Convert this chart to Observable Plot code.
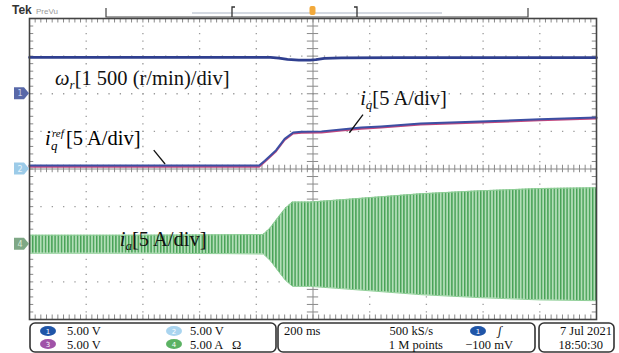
<!DOCTYPE html>
<html><head><meta charset="utf-8">
<script src="https://cdn.jsdelivr.net/npm/d3@7"></script>
<script src="https://cdn.jsdelivr.net/npm/@observablehq/plot@0.6"></script>
<style>body{margin:0;background:#fff} svg{display:block}</style>
</head><body><div id="chart"></div>
<script>
// Time axis: seconds, trigger at 0, 200 ms/div, 10 div
// Channel 1: speed omega_r, 1500 (r/min)/div, ground at +2 div
const speedT   = [-1.0, -0.15, -0.12, -0.09, -0.05, -0.01, 0.01, 0.04, 0.1, 0.3, 1.0];
const speedRpm = [1450, 1450, 1420, 1370, 1340, 1340, 1360, 1410, 1430, 1440, 1440];
// Channel 2: i_q, 5 A/div, ground at 0 div
const iqT   = [-1.0, -0.19, -0.17, -0.13, -0.1, -0.07, -0.04, 0.03, 0.1, 0.17, 0.24, 0.38, 0.59, 0.8, 1.0];
const iqA   = [0.45, 0.45, 1.1, 2.5, 4.0, 4.85, 4.95, 5.0, 5.25, 5.5, 5.65, 6.05, 6.3, 6.6, 6.85];
// Channel 3: i_q reference, 5 A/div, ground at 0 div
const iqRefA = [0.3, 0.3, 0.95, 2.35, 3.85, 4.7, 4.8, 4.85, 5.1, 5.35, 5.5, 5.9, 6.15, 6.45, 6.7];
// Channel 4: i_a envelope amplitude (A), 5 A/div, ground at -2 div
const iaT   = [-1.0, -0.6, -0.3, -0.175, -0.15, -0.122, -0.097, -0.072, -0.01, 0.1, 0.24, 0.38, 0.59, 0.8, 1.0];
const iaAmp = [1.2, 1.2, 1.25, 1.3, 2.2, 3.6, 4.8, 5.6, 5.6, 5.9, 6.3, 6.7, 7.1, 7.4, 7.5];

const ch = {speed: {offset: 2, perDiv: 1500}, iq: {offset: 0, perDiv: 5}, ia: {offset: -2, perDiv: 5}};

const speedData = speedT.map((t, i) => ({t, v: ch.speed.offset + speedRpm[i] / ch.speed.perDiv}));
const iqData = iqT.map((t, i) => ({t, v: ch.iq.offset + iqA[i] / ch.iq.perDiv}));
const iqRefData = iqT.map((t, i) => ({t, v: ch.iq.offset + iqRefA[i] / ch.iq.perDiv}));
const iaData = iaT.map((t, i) => ({t, lo: ch.ia.offset - iaAmp[i] / ch.ia.perDiv, hi: ch.ia.offset + iaAmp[i] / ch.ia.perDiv}));

const gridX = [-0.8, -0.6, -0.4, -0.2, 0.2, 0.4, 0.6, 0.8];
const gridY = [-3, -2, -1, 1, 2, 3];
const minorX = d3.range(-50, 51).map(k => k * 0.02);
const minorY = d3.range(-20, 21).map(k => k * 0.2);

const W = 619, H = 353;
const plot = Plot.plot({
  width: W, height: H,
  marginLeft: 29, marginRight: 23, marginTop: 18, marginBottom: 34,
  x: {domain: [-1, 1], axis: null},
  y: {domain: [-4, 4], axis: null},
  style: {background: "#fff"},
  marks: [
    Plot.ruleX(gridX, {stroke: "#9a9a9a", strokeWidth: 1.3, strokeDasharray: "1.3,6.22"}),
    Plot.ruleY(gridY, {stroke: "#9a9a9a", strokeWidth: 1.3, strokeDasharray: "1.3,10.04"}),
    Plot.ruleX([0], {stroke: "#8a8a8a", strokeWidth: 1}),
    Plot.ruleY([0], {stroke: "#8a8a8a", strokeWidth: 1}),
    Plot.ruleX(minorX, {x: d => d, y1: -0.1, y2: 0.1, stroke: "#8a8a8a"}),
    Plot.ruleY(minorY, {y: d => d, x1: -0.02, x2: 0.02, stroke: "#8a8a8a"}),
    Plot.ruleX(minorX, {x: d => d, y1: 4, y2: 3.88, stroke: "#8a8a8a"}),
    Plot.ruleX(minorX, {x: d => d, y1: -4, y2: -3.88, stroke: "#8a8a8a"}),
    Plot.ruleY(minorY, {y: d => d, x1: -1, x2: -0.985, stroke: "#8a8a8a"}),
    Plot.ruleY(minorY, {y: d => d, x1: 1, x2: 0.985, stroke: "#8a8a8a"}),
    Plot.areaY(iaData, {x: "t", y1: "lo", y2: "hi", fill: "url(#iaStripes)"}),
    Plot.line(iaData, {x: "t", y: "hi", stroke: "#8fcf97", strokeWidth: 1}),
    Plot.line(iaData, {x: "t", y: "lo", stroke: "#8fcf97", strokeWidth: 1}),
    Plot.line(speedData, {x: "t", y: "v", stroke: "#2f3f8f", strokeWidth: 2.6}),
    Plot.line(iqRefData, {x: "t", y: "v", stroke: "#c2487e", strokeWidth: 1.8}),
    Plot.line(iqData, {x: "t", y: "v", stroke: "#3c4fa3", strokeWidth: 2}),
    Plot.frame({stroke: "#444", strokeWidth: 1.6})
  ]
});
document.getElementById("chart").appendChild(plot);

const root = d3.select(plot);
const svg = root.append("g").attr("text-anchor", "start");
const sx = plot.scale("x").apply, sy = plot.scale("y").apply;
const serif = "'Liberation Serif','Times New Roman',serif";

// stripes pattern to render the dense oscillation of i_a
const defs = root.insert("defs", ":first-child");
const pat = defs.append("pattern").attr("id", "iaStripes").attr("patternUnits", "userSpaceOnUse")
  .attr("width", 3.2).attr("height", 10);
pat.append("rect").attr("width", 3.2).attr("height", 10).attr("fill", "#b3deb8");
pat.append("rect").attr("width", 1.4).attr("height", 10).attr("fill", "#45a054");

// annotations
const FS = 20.5, SUB = 13;
function label(t, v, parts, size) {
  const g = svg.append("text").attr("x", sx(t)).attr("y", sy(v))
    .attr("font-family", serif).attr("font-size", size).attr("fill", "#111");
  parts.forEach(p => {
    const ts = g.append("tspan").text(p.s);
    if (p.it) ts.attr("font-style", "italic");
    if (p.fs) ts.attr("font-size", p.fs);
    if (p.dy) ts.attr("dy", p.dy);
  });
  return g;
}
label(-0.908, 2.22, [{s: "ω", it: true}, {s: "r", it: true, fs: SUB, dy: 4}, {s: "[1 500 (r/min)/div]", dy: -4}], FS);
label(0.168, 1.68, [{s: "i", it: true}, {s: "q", it: true, fs: SUB, dy: 4}, {s: "[5 A/div]", dy: -4}], FS);
label(-0.68, -2.07, [{s: "i", it: true}, {s: "a", it: true, fs: SUB, dy: 4}, {s: "[5 A/div]", dy: -4}], FS);
// i_q^ref
{
  const x0 = sx(-0.944), y0 = sy(0.625);
  svg.append("text").attr("x", x0).attr("y", y0).attr("font-family", serif).attr("font-size", FS)
    .attr("font-style", "italic").text("i");
  svg.append("text").attr("x", x0 + 7).attr("y", y0 - 8).attr("font-family", serif).attr("font-size", 11)
    .attr("font-style", "italic").text("ref");
  svg.append("text").attr("x", x0 + 6).attr("y", y0 + 5).attr("font-family", serif).attr("font-size", SUB)
    .attr("font-style", "italic").text("q");
  svg.append("text").attr("x", x0 + 21).attr("y", y0).attr("font-family", serif).attr("font-size", FS).text("[5 A/div]");
}
// pointer lines
svg.append("line").attr("x1", sx(-0.56)).attr("y1", sy(0.49)).attr("x2", sx(-0.52)).attr("y2", sy(0.12))
  .attr("stroke", "#111").attr("stroke-width", 1.3);
svg.append("line").attr("x1", sx(0.178)).attr("y1", sy(1.43)).attr("x2", sx(0.13)).attr("y2", sy(0.95))
  .attr("stroke", "#111").attr("stroke-width", 1.3);

// channel markers at left
function marker(v, fill, txt, tc) {
  const y = sy(v), x1 = 14, x2 = 29;
  svg.append("path").attr("d", `M${x1},${y-6}H${x2-5}L${x2},${y}L${x2-5},${y+6}H${x1}Z`).attr("fill", fill);
  svg.append("text").attr("x", 20).attr("y", y + 3).attr("text-anchor", "middle").attr("font-size", 8)
    .attr("font-family", "DejaVu Sans").attr("fill", tc).text(txt);
}
marker(2, "#5868a8", "1", "#c8d0ee");
marker(0, "#9ccbe8", "2", "#e8f4fb");
marker(-2, "#7fa886", "4", "#d8ecd8");

// header
svg.append("text").attr("x", 12).attr("y", 14).attr("font-family", "'Liberation Sans',Arial,sans-serif")
  .attr("font-weight", "bold").attr("font-size", 12).attr("fill", "#333").text("Tek");
svg.append("text").attr("x", 36).attr("y", 14).attr("font-family", "'Liberation Sans',Arial,sans-serif")
  .attr("font-size", 8).attr("fill", "#999").text("PreVu");
svg.append("path").attr("d", "M106,8V17H528V8").attr("fill", "none").attr("stroke", "#444").attr("stroke-width", 1.2);
svg.append("line").attr("x1", 192).attr("x2", 442).attr("y1", 13).attr("y2", 13).attr("stroke", "#aab4c4").attr("stroke-width", 1.2);
svg.append("path").attr("d", "M235,7H232V17").attr("fill", "none").attr("stroke", "#333").attr("stroke-width", 1.3);
svg.append("path").attr("d", "M354,7H357V17").attr("fill", "none").attr("stroke", "#333").attr("stroke-width", 1.3);
svg.append("rect").attr("x", sx(0) - 3).attr("y", 6).attr("width", 6).attr("height", 9).attr("rx", 2).attr("fill", "#f2a93b");

// bottom status bar
const bar = svg.append("g").attr("font-family", serif).attr("font-size", 12.5).attr("fill", "#111");
[[30, 276], [278, 535], [539, 614]].forEach(([a, b]) => {
  bar.append("rect").attr("x", a).attr("y", 323).attr("width", b - a).attr("height", 29).attr("rx", 5)
    .attr("fill", "none").attr("stroke", "#333").attr("stroke-width", 1.6);
});
function badge(x, y, fill, txt) {
  bar.append("ellipse").attr("cx", x).attr("cy", y).attr("rx", 8).attr("ry", 5).attr("fill", fill);
  bar.append("text").attr("x", x).attr("y", y + 3).attr("text-anchor", "middle").attr("font-size", 7)
    .attr("font-family", "DejaVu Sans").attr("fill", "#fff").text(txt);
}
badge(48, 331, "#1f55a8", "1");
badge(48, 344, "#a052a8", "3");
badge(174, 331, "#a9d4ef", "2");
badge(174, 344, "#5bb263", "4");
badge(478, 331, "#1f55a8", "1");
bar.append("text").attr("x", 67).attr("y", 335).text("5.00 V");
bar.append("text").attr("x", 67).attr("y", 349).text("5.00 V");
bar.append("text").attr("x", 190).attr("y", 335).text("5.00 V");
bar.append("text").attr("x", 190).attr("y", 349).text("5.00 A   Ω");
bar.append("text").attr("x", 284).attr("y", 335).text("200 ms");
bar.append("text").attr("x", 433).attr("y", 335).attr("text-anchor", "end").text("500 kS/s");
bar.append("text").attr("x", 443).attr("y", 349).attr("text-anchor", "end").text("1 M points");
bar.append("text").attr("x", 498).attr("y", 335).attr("font-style", "italic").text("ʃ");
bar.append("text").attr("x", 513).attr("y", 349).attr("text-anchor", "end").text("−100 mV");
bar.append("text").attr("x", 612).attr("y", 335).attr("text-anchor", "end").text("7 Jul 2021");
bar.append("text").attr("x", 603).attr("y", 349).attr("text-anchor", "end").text("18:50:30");
</script></body></html>
